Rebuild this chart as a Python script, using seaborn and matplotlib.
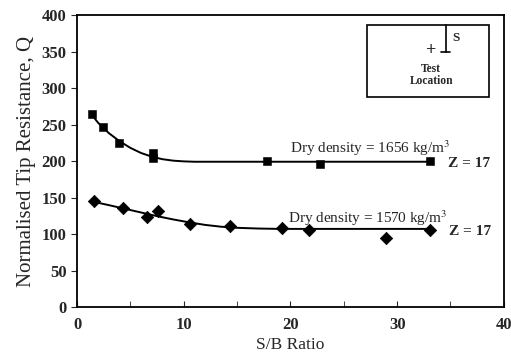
import pandas as pd
import numpy as np
import matplotlib
matplotlib.use('Agg')
import matplotlib.pyplot as plt
import seaborn as sns

# measured points, dry density 1656 kg/m3
sq_x = [1.4, 2.4, 3.9, 7.1, 7.1, 17.8, 22.8, 33.1]
sq_y = [264, 247, 224, 211, 204, 200, 196, 200]
# trend curve
sq_fit_x = [1.4, 2.0, 3.0, 4.0, 5.0, 6.0, 7.0, 8.0, 9.0, 10.0, 11.0, 12.0, 33.1]
sq_fit_y = [263, 252, 238, 227, 218, 211, 206, 202.5, 200.5, 199.5, 199, 199, 199]

# measured points, dry density 1570 kg/m3
di_x = [1.6, 4.3, 6.6, 7.6, 10.6, 14.3, 19.2, 21.7, 29.0, 33.1]
di_y = [145, 136, 123, 132, 114, 111, 108, 105, 95, 106]
di_fit_x = [1.6, 3.0, 4.5, 6.0, 7.5, 9.0, 10.5, 12.0, 13.5, 15.0, 17.0, 19.0, 33.1]
di_fit_y = [144, 139.5, 134.5, 129.5, 124.5, 120, 116, 112.5, 110, 108.5, 107.5, 107, 107]

sns.set_style('ticks')
plt.rcParams['font.family'] = ['Liberation Serif', 'DejaVu Serif']
plt.rcParams['mathtext.fontset'] = 'stix'

fig = plt.figure(figsize=(5.11, 3.59), dpi=100)
ax = fig.add_axes([0.1507, 0.1448, 0.8353, 0.8134])

sns.lineplot(x=sq_fit_x, y=sq_fit_y, ax=ax, color='black', linewidth=1.4, sort=False)
sns.lineplot(x=di_fit_x, y=di_fit_y, ax=ax, color='black', linewidth=1.4, sort=False)
sns.scatterplot(x=sq_x, y=sq_y, ax=ax, marker='s', s=26, color='black', edgecolor='black', zorder=3)
sns.scatterplot(x=di_x, y=di_y, ax=ax, marker='D', s=40, color='black', edgecolor='black', zorder=3)

ax.set_xlim(0, 40)
ax.set_ylim(0, 400)
ax.set_xticks(np.arange(0, 41, 10))
ax.set_xticks(np.arange(5, 40, 10), minor=True)
ax.set_yticks(np.arange(0, 401, 50))
ax.tick_params(axis='x', which='both', direction='in', length=4, labelsize=12, pad=7)
ax.tick_params(axis='y', direction='out', length=4, labelsize=12)
for lbl in ax.get_xticklabels() + ax.get_yticklabels():
    lbl.set_fontweight('bold')
for s in ax.spines.values():
    s.set_color('black')
    s.set_linewidth(1.3)

ax.set_xlabel('S/B Ratio', fontsize=12.5, labelpad=3)
ax.set_ylabel('Normalised Tip Resistance, Q', fontsize=15, labelpad=4)

ax.text(20.0, 218, r'Dry density = 1656 kg/m$^3$', fontsize=11, va='center')
ax.text(34.8, 197, 'Z = 17', fontsize=11, fontweight='bold', va='center')
ax.text(19.8, 122, r'Dry density = 1570 kg/m$^3$', fontsize=11, va='center')
ax.text(34.9, 103, 'Z = 17', fontsize=11, fontweight='bold', va='center')

# inset sketch of test location
ax.add_patch(plt.Rectangle((27.2, 288), 11.4, 98, fill=False, edgecolor='black', linewidth=1.2))
ax.plot([34.55, 34.55], [386, 349], color='black', linewidth=1.2)
ax.plot([34.1, 35.0], [349, 349], color='black', linewidth=1.2)
ax.text(35.2, 368, 'S', fontsize=9.5, fontweight='bold', va='center')
ax.text(33.2, 351, '+', fontsize=13, fontweight='bold', ha='center', va='center')
ax.text(33.2, 326, 'Test', fontsize=8.3, fontweight='bold', ha='center', va='center')
ax.text(33.2, 309, 'Location', fontsize=8.3, fontweight='bold', ha='center', va='center')

fig.savefig('out.png', dpi=100)
